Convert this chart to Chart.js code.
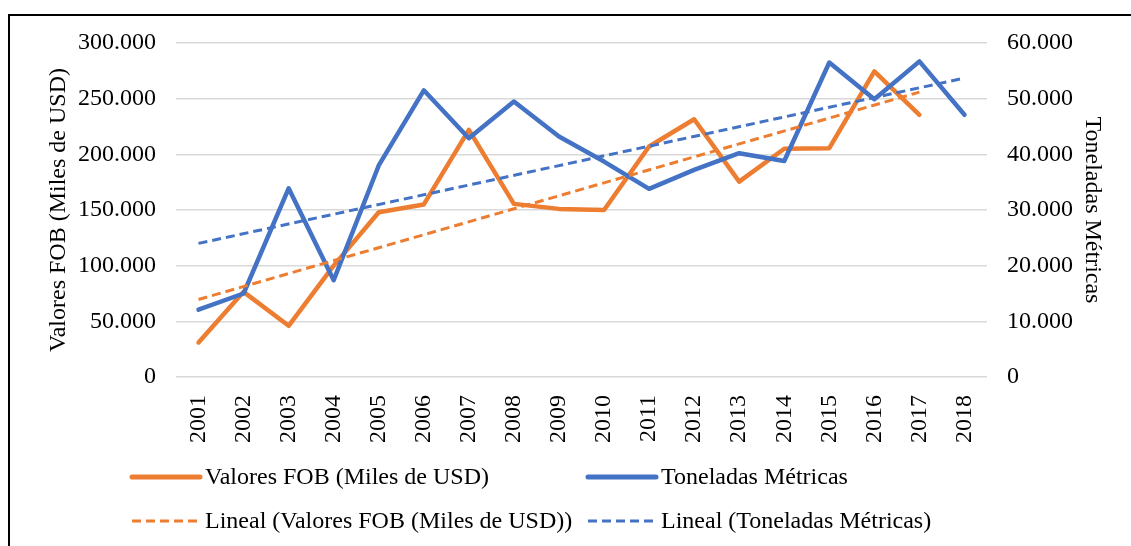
<!DOCTYPE html>
<html>
<head>
<meta charset="utf-8">
<script src="https://cdn.jsdelivr.net/npm/chart.js@4.4.1/dist/chart.umd.min.js"></script>
<style>
html,body{margin:0;padding:0;background:#fff;overflow:hidden;}
#wrap{position:relative;width:1131px;height:546px;}
#frame{position:absolute;left:8px;top:14px;width:1200px;height:700px;border:2px solid #000;box-sizing:border-box;pointer-events:none;}
canvas{position:absolute;left:0;top:0;}
</style>
</head>
<body>
<div id="wrap">
<canvas id="c" width="1131" height="546"></canvas>
<div id="frame"></div>
</div>
<script>
const years = ['2001','2002','2003','2004','2005','2006','2007','2008','2009','2010','2011','2012','2013','2014','2015','2016','2017','2018'];
const valoresFOB = [31000, 76500, 46000, 100000, 148000, 155000, 222000, 155500, 151000, 150000, 207000, 231500, 175500, 205000, 205500, 274500, 235500, null];
const toneladas = [12100, 15000, 33900, 17400, 38000, 51500, 42900, 49500, 43200, 38700, 33800, 37200, 40200, 38800, 56500, 49900, 56700, 47100];
const trendFOB = [69600, null, null, null, null, null, null, null, null, null, null, null, null, null, null, null, 255900, null];
const trendTon = [24000, null, null, null, null, null, null, null, null, null, null, null, null, null, null, null, null, 53700];
const leftTicksMax = 300000, leftStep = 50000;
const rightTicksMax = 60000, rightStep = 10000;
const labelFOB = 'Valores FOB (Miles de USD)';
const labelTon = 'Toneladas Métricas';
const labelTrendFOB = 'Lineal (Valores FOB (Miles de USD))';
const labelTrendTon = 'Lineal (Toneladas Métricas)';

const ORANGE = '#ED7D31', BLUE = '#4472C4';
const FONT = 'Liberation Serif, "Times New Roman", serif';
const FS = 24;

function fmt(v){ return String(Math.round(v)).replace(/\B(?=(\d{3})+(?!\d))/g, '.'); }

const legendPlugin = {
  id: 'customLegend',
  afterDraw(chart){
    const ctx = chart.ctx;
    const items = [
      {ds:0, x:130, y:477}, {ds:1, x:586, y:477},
      {ds:2, x:130, y:521}, {ds:3, x:586, y:521}
    ];
    ctx.save();
    ctx.font = FS + 'px ' + FONT;
    ctx.textBaseline = 'middle';
    ctx.fillStyle = '#000';
    items.forEach(it => {
      const d = chart.data.datasets[it.ds];
      ctx.beginPath();
      ctx.strokeStyle = d.borderColor;
      ctx.lineWidth = d.borderDash ? 3 : 5;
      ctx.lineCap = d.borderDash ? 'butt' : 'round';
      ctx.setLineDash(d.borderDash || []);
      ctx.moveTo(it.x + 2, it.y);
      ctx.lineTo(it.x + 70, it.y);
      ctx.stroke();
      ctx.setLineDash([]);
      ctx.fillText(d.label, it.x + 75, it.y + 1);
    });
    ctx.restore();
  }
};

new Chart(document.getElementById('c'), {
  type: 'line',
  data: {
    labels: years,
    datasets: [
      {label: labelFOB, data: valoresFOB, yAxisID: 'y', borderColor: ORANGE, backgroundColor: ORANGE, borderWidth: 4.5, pointRadius: 0, tension: 0, borderCapStyle: 'round', borderJoinStyle: 'round', order: 4},
      {label: labelTon, data: toneladas, yAxisID: 'y1', borderColor: BLUE, backgroundColor: BLUE, borderWidth: 4.5, pointRadius: 0, tension: 0, borderCapStyle: 'round', borderJoinStyle: 'round', order: 3},
      {label: labelTrendFOB, data: trendFOB, yAxisID: 'y', borderColor: ORANGE, backgroundColor: ORANGE, borderWidth: 3, borderDash: [9, 5], pointRadius: 0, spanGaps: true, order: 2},
      {label: labelTrendTon, data: trendTon, yAxisID: 'y1', borderColor: BLUE, backgroundColor: BLUE, borderWidth: 3, borderDash: [9, 5], pointRadius: 0, spanGaps: true, order: 1}
    ]
  },
  options: {
    responsive: false,
    animation: false,
    layout: {padding: {left: 40, right: 20, top: 43, bottom: 90}},
    plugins: {legend: {display: false}, tooltip: {enabled: false}},
    scales: {
      x: {
        offset: true,
        grid: {display: false},
        border: {display: false},
        ticks: {color: '#000', font: {family: FONT, size: FS}, minRotation: 90, maxRotation: 90, padding: 10, autoSkip: false},
        afterFit(s){ s.height = 546 - 377 - 90; }
      },
      y: {
        position: 'left',
        min: 0, max: leftTicksMax,
        ticks: {stepSize: leftStep, color: '#000', font: {family: FONT, size: FS}, padding: 20, callback: v => fmt(v)},
        grid: {color: '#d9d9d9', lineWidth: 1.5, drawTicks: false},
        border: {display: false},
        title: {display: true, text: labelFOB, color: '#000', font: {family: FONT, size: FS}, padding: {top: 4, bottom: 0}},
        afterFit(s){ s.width = 176 - 40; }
      },
      y1: {
        position: 'right',
        min: 0, max: rightTicksMax,
        ticks: {stepSize: rightStep, color: '#000', font: {family: FONT, size: FS}, padding: 20, callback: v => fmt(v)},
        grid: {drawOnChartArea: false, drawTicks: false},
        border: {display: false},
        title: {display: true, text: labelTon, color: '#000', font: {family: FONT, size: FS}, padding: {top: 4, bottom: 0}},
        afterFit(s){ s.width = 1111 - 987; }
      }
    }
  },
  plugins: [legendPlugin]
});
</script>
</body>
</html>
